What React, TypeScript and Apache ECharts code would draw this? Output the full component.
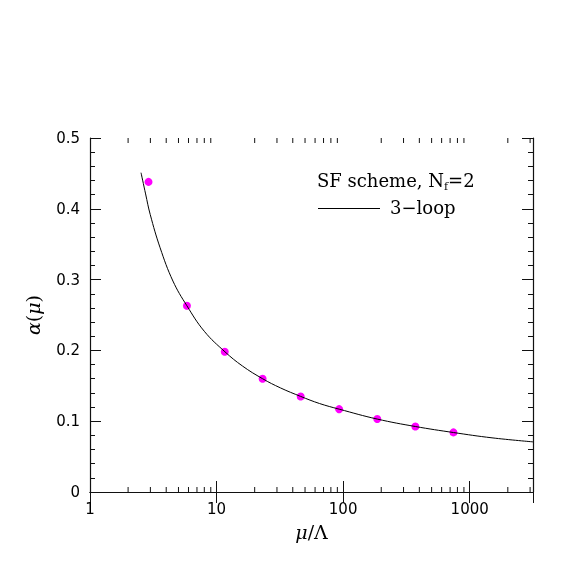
import React, { useEffect, useRef } from "react";
import * as echarts from "echarts";

const curveX = [2.53, 2.75, 2.99, 3.58, 4.52, 5.83, 8.0, 11.65, 16, 23.1, 32, 46.2, 65, 93, 186, 372, 744, 1500, 3162];
const curveY = [0.451, 0.421, 0.392, 0.345, 0.298, 0.263, 0.227, 0.198, 0.178, 0.16, 0.147, 0.135, 0.125, 0.117, 0.103, 0.0925, 0.084, 0.0765, 0.0708];
const pointX = [2.9, 5.83, 11.6, 23.1, 46.2, 93, 186, 372, 744];
const pointY = [0.438, 0.263, 0.198, 0.16, 0.135, 0.117, 0.103, 0.0925, 0.0842];
const minorX = [2, 3, 4, 5, 6, 7, 8, 9, 20, 30, 40, 50, 60, 70, 80, 90, 200, 300, 400, 500, 600, 700, 800, 900, 2000, 3000];
const xMin = 1;
const xMax = Math.pow(10, 3.5);

export default function App() {
  const ref = useRef<HTMLDivElement>(null);
  useEffect(() => {
    const chart = echarts.init(ref.current!, null, { renderer: "svg" });
    const axisColor = "#111";
    const labelFont = { fontFamily: "DejaVu Sans", fontSize: 15, color: "#000" };
    const xLabel = (v: number) => {
      const l = Math.log10(v);
      return Math.abs(l - Math.round(l)) < 1e-6 ? String(Math.round(v)) : "";
    };
    chart.setOption({
      animation: false,
      grid: { left: 90, right: 48, top: 138, bottom: 89 },
      xAxis: [
        {
          type: "log",
          logBase: 10,
          min: xMin,
          max: xMax,
          position: "bottom",
          axisLine: { show: true, lineStyle: { color: axisColor, width: 1.2 } },
          axisTick: { show: true, inside: true, length: 11, lineStyle: { color: axisColor } },
          axisLabel: { ...labelFont, margin: 9, formatter: xLabel, showMaxLabel: false },
          splitLine: { show: false },
          name: "{i|μ}/Λ",
          nameLocation: "middle",
          nameGap: 30,
          nameTextStyle: {
            fontFamily: "DejaVu Serif",
            fontSize: 19,
            color: "#000",
            rich: { i: { fontFamily: "DejaVu Serif", fontStyle: "italic", fontSize: 19, color: "#000" } },
          },
        },
        {
          type: "log",
          logBase: 10,
          min: xMin,
          max: xMax,
          position: "top",
          axisLine: { show: true, lineStyle: { color: axisColor, width: 1.2 } },
          axisTick: { show: true, inside: true, length: 11, lineStyle: { color: axisColor } },
          axisLabel: { show: false },
          splitLine: { show: false },
        },
      ],
      yAxis: [
        {
          type: "value",
          min: 0,
          max: 0.5,
          interval: 0.1,
          position: "left",
          axisLine: { show: true, lineStyle: { color: axisColor, width: 1.2 } },
          axisTick: { show: true, inside: true, length: 11, lineStyle: { color: axisColor } },
          minorTick: { show: true, splitNumber: 5, length: 5, lineStyle: { color: axisColor } },
          axisLabel: { ...labelFont, margin: 10 },
          splitLine: { show: false },
          name: "{i|α}({i|μ})",
          nameLocation: "middle",
          nameGap: 48,
          nameRotate: 90,
          nameTextStyle: {
            fontFamily: "DejaVu Serif",
            fontSize: 19,
            color: "#000",
            rich: { i: { fontFamily: "DejaVu Serif", fontStyle: "italic", fontSize: 19, color: "#000" } },
          },
        },
        {
          type: "value",
          min: 0,
          max: 0.5,
          interval: 0.1,
          position: "right",
          axisLine: { show: true, lineStyle: { color: axisColor, width: 1.2 } },
          axisTick: { show: true, inside: true, length: 11, lineStyle: { color: axisColor } },
          minorTick: { show: true, splitNumber: 5, length: 5, lineStyle: { color: axisColor } },
          axisLabel: { show: false },
          splitLine: { show: false },
        },
      ],
      series: [
        {
          type: "line",
          xAxisIndex: 0,
          yAxisIndex: 0,
          data: curveX.map((x, i) => [x, curveY[i]]),
          smooth: 0.4,
          showSymbol: false,
          symbol: "none",
          lineStyle: { color: "#000", width: 1 },
          silent: true,
        },
        {
          type: "scatter",
          xAxisIndex: 0,
          yAxisIndex: 0,
          data: pointX.map((x, i) => [x, pointY[i]]),
          symbolSize: 8,
          itemStyle: { color: "#ff00ff", opacity: 1 },
          silent: true,
        },
        {
          type: "custom",
          xAxisIndex: 0,
          yAxisIndex: 0,
          silent: true,
          clip: false,
          data: minorX.map((x) => [x, 0]),
          encode: { x: 0, y: 1 },
          renderItem: (params: any, api: any) => {
            const cs = params.coordSys;
            const px = api.coord([api.value(0), 0])[0];
            const style = { stroke: axisColor, lineWidth: 1 };
            return {
              type: "group",
              children: [
                { type: "line", shape: { x1: px, y1: cs.y + cs.height, x2: px, y2: cs.y + cs.height - 5 }, style },
                { type: "line", shape: { x1: px, y1: cs.y, x2: px, y2: cs.y + 5 }, style },
              ],
            };
          },
        },
      ],
      graphic: [
        {
          type: "text",
          left: 317,
          top: 171,
          style: {
            text: "{n|SF scheme, N}{s|f}{n|=2}",
            rich: {
              n: { fontFamily: "DejaVu Serif", fontSize: 18, lineHeight: 24, fill: "#000" },
              s: { fontFamily: "DejaVu Serif", fontSize: 11, lineHeight: 11, verticalAlign: "bottom", fill: "#000" },
            },
          },
        },
        {
          type: "line",
          shape: { x1: 318, y1: 208.5, x2: 380, y2: 208.5 },
          style: { stroke: "#000", lineWidth: 1 },
        },
        {
          type: "text",
          left: 390,
          top: 198,
          style: { text: "3−loop", fontFamily: "DejaVu Serif", fontSize: 18, fill: "#000" },
        },
      ],
    });
    return () => chart.dispose();
  }, []);
  return <div ref={ref} style={{ position: "fixed", left: 0, top: 0, width: 581, height: 581 }} />;
}
